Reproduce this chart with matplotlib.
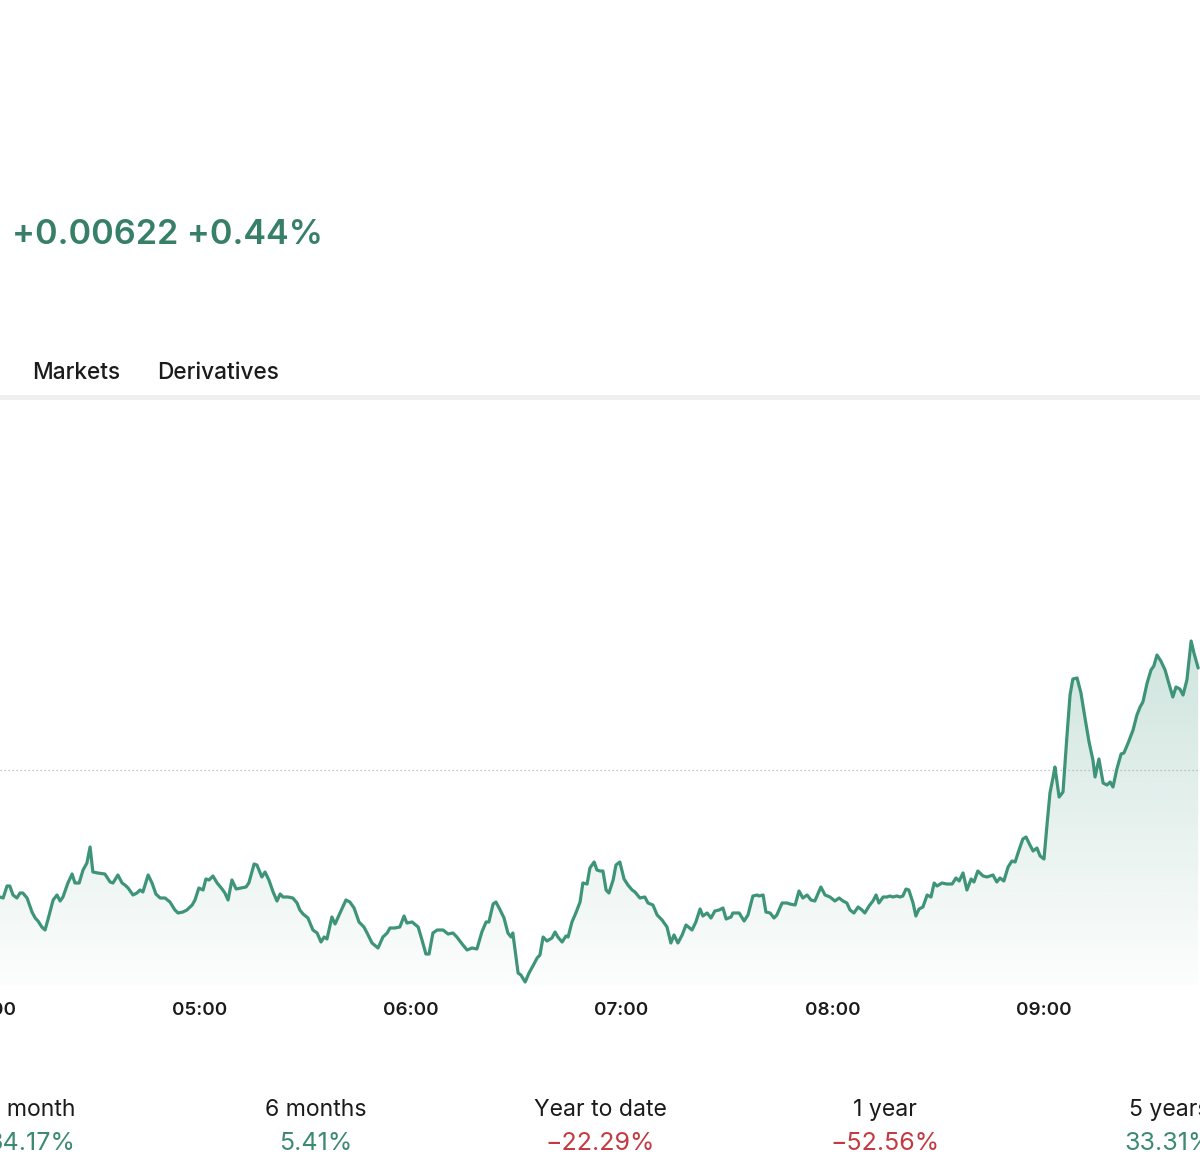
import numpy as np
import matplotlib
matplotlib.use("Agg")
import matplotlib.pyplot as plt
from matplotlib.path import Path
from matplotlib.patches import PathPatch, Rectangle
from matplotlib.transforms import Affine2D
from matplotlib.colors import to_rgb

# ---------------- data ----------------
# minutes after 04:00, in four stretches
t_a = [3.4,4.3,5.4,6.2,7.1,8.2,9.1,9.9,11.1,12.5,
       13.4,14.2,15.3,16.2,17.0,18.5,19.6,20.5,21.3,22.7,
       23.9,24.7,25.9,27.0,28.1,29.0,29.8,31.2,33.2,34.7,
       35.5,36.9,38.1,38.9,39.8,41.2,42.3,43.2,44.0,45.5,
       46.6,47.7,48.9,50.3,51.7,53.1,54.0,55.4,56.5,58.0,
       58.8,59.9,61.1,61.9,62.8,63.9,65.1,66.5,67.3,68.2,
       69.3,70.5,71.9,73.3,74.1,75.6,76.4,77.8,78.7,79.8,
       81.0,82.1,83.0,83.8,85.2,86.6,87.8]
p_a = [1.40725,1.40720,1.40780,1.40780,1.40735,1.40720,1.40745,1.40745,1.40720,1.40650,
       1.40620,1.40605,1.40575,1.40560,1.40610,1.40710,1.40735,1.40705,1.40725,1.40795,
       1.40840,1.40795,1.40795,1.40860,1.40895,1.40975,1.40850,1.40845,1.40840,1.40800,
       1.40795,1.40835,1.40795,1.40785,1.40770,1.40735,1.40745,1.40760,1.40750,1.40835,
       1.40795,1.40740,1.40720,1.40720,1.40700,1.40660,1.40645,1.40650,1.40660,1.40685,
       1.40710,1.40770,1.40760,1.40815,1.40810,1.40830,1.40795,1.40765,1.40745,1.40710,
       1.40810,1.40765,1.40770,1.40775,1.40795,1.40890,1.40885,1.40825,1.40850,1.40810,
       1.40750,1.40705,1.40740,1.40725,1.40725,1.40720,1.40695]

t_b = [88.6,89.5,90.9,92.3,93.5,94.6,95.5,96.3,97.7,98.6,
       100.0,101.7,102.8,104.0,105.4,106.8,107.7,109.1,110.8,112.2,
       113.4,114.2,115.6,117.0,118.2,119.0,120.5,122.2,123.3,124.4,
       125.3,126.4,127.6,129.3,130.7,132.1,133.2,134.7,136.1,137.5,
       138.9,140.3,141.5,142.3,143.5,144.3,145.5,146.6,147.7,148.6,
       149.1,150.6,151.4,152.6,153.7,154.8,156.0,156.8,157.7,158.8,
       160.2,161.1,161.9,163.1,164.2,164.8,165.9,167.0,168.2,169.0,
       170.2,171.0,172.2,173.0]
p_b = [1.40660,1.40640,1.40620,1.40560,1.40545,1.40500,1.40525,1.40515,1.40625,1.40590,
       1.40645,1.40710,1.40700,1.40670,1.40600,1.40575,1.40545,1.40495,1.40470,1.40525,
       1.40545,1.40570,1.40570,1.40575,1.40630,1.40595,1.40600,1.40575,1.40510,1.40440,
       1.40440,1.40545,1.40560,1.40560,1.40540,1.40545,1.40525,1.40490,1.40460,1.40470,
       1.40465,1.40550,1.40600,1.40600,1.40690,1.40700,1.40660,1.40620,1.40545,1.40525,
       1.40545,1.40345,1.40335,1.40300,1.40345,1.40380,1.40420,1.40435,1.40525,1.40505,
       1.40520,1.40550,1.40525,1.40500,1.40530,1.40525,1.40600,1.40645,1.40700,1.40795,
       1.40790,1.40870,1.40900,1.40860]

t_c = [173.9,174.7,175.6,176.4,177.6,178.4,179.5,180.7,181.8,183.0,
       183.8,185.2,186.6,187.5,188.9,190.1,191.5,192.9,194.0,194.9,
       196.0,197.2,198.3,200.0,201.1,202.3,203.1,204.3,205.4,206.5,
       207.7,208.8,209.7,211.1,211.6,213.4,214.8,215.9,217.3,218.5,
       219.0,220.2,221.0,222.2,223.3,224.1,225.6,227.0,227.8,229.3,
       230.4,231.5,232.7,233.8,234.9,236.6,237.8,239.2,240.6,241.8,
       242.9,244.0,244.9,246.0,247.2,248.3,249.1,250.3,251.4,252.3,
       253.1,254.3,255.4,256.2,257.1,258.2]
p_c = [1.40855,1.40855,1.40760,1.40745,1.40810,1.40885,1.40900,1.40815,1.40785,1.40760,
       1.40750,1.40720,1.40725,1.40695,1.40685,1.40635,1.40610,1.40575,1.40495,1.40535,
       1.40495,1.40535,1.40585,1.40560,1.40600,1.40665,1.40630,1.40645,1.40620,1.40655,
       1.40660,1.40670,1.40615,1.40625,1.40645,1.40645,1.40605,1.40635,1.40730,1.40735,
       1.40730,1.40735,1.40650,1.40645,1.40620,1.40635,1.40695,1.40695,1.40690,1.40685,
       1.40755,1.40720,1.40735,1.40710,1.40705,1.40775,1.40735,1.40725,1.40705,1.40720,
       1.40705,1.40695,1.40660,1.40645,1.40675,1.40660,1.40645,1.40680,1.40705,1.40735,
       1.40695,1.40725,1.40725,1.40730,1.40725,1.40730]

t_d = [259.1,259.9,260.8,261.6,262.8,263.6,264.5,265.6,266.8,267.9,
       268.8,269.6,271.0,272.4,273.9,275.0,275.9,277.0,278.1,279.3,
       280.1,281.2,282.7,283.8,285.5,286.6,287.5,288.6,289.8,290.9,
       291.8,292.9,294.0,294.9,296.0,296.9,298.0,298.9,300.0,300.9,
       301.7,302.6,303.1,304.3,305.4,306.5,307.4,308.2,309.4,310.5,
       311.6,312.8,313.9,314.5,315.6,316.8,317.9,318.8,319.6,320.7,
       321.9,322.7,323.9,325.3,326.4,327.3,328.1,329.3,330.4,331.2,
       332.1,333.2,334.4,335.2,336.6,337.5,338.6,339.5,340.6,341.8,
       342.6,343.8]
p_d = [1.40725,1.40730,1.40765,1.40760,1.40695,1.40630,1.40665,1.40675,1.40735,1.40725,
       1.40795,1.40780,1.40795,1.40790,1.40790,1.40820,1.40805,1.40845,1.40760,1.40815,
       1.40800,1.40855,1.40830,1.40825,1.40835,1.40800,1.40820,1.40805,1.40875,1.40905,
       1.40900,1.40960,1.41015,1.41025,1.40985,1.40955,1.40970,1.40930,1.40915,1.41095,
       1.41245,1.41325,1.41375,1.41225,1.41250,1.41525,1.41735,1.41815,1.41820,1.41745,
       1.41625,1.41500,1.41410,1.41325,1.41415,1.41295,1.41285,1.41300,1.41275,1.41365,
       1.41440,1.41445,1.41495,1.41560,1.41635,1.41675,1.41700,1.41795,1.41860,1.41880,
       1.41935,1.41905,1.41860,1.41810,1.41725,1.41775,1.41765,1.41735,1.41810,1.42005,
       1.41945,1.41870]

prev_close = 1.41360

tick_minutes = [0, 60, 120, 180, 240, 300]
tick_labels = ["04:00", "05:00", "06:00", "07:00", "08:00", "09:00"]

header_change = "+0.00622 +0.44%"
tabs = ["Markets", "Derivatives"]

period_names = ["1 month", "6 months", "Year to date", "1 year", "5 years"]
period_values = ["34.17%", "5.41%", "\u221222.29%", "\u221252.56%", "33.31%"]

# ---------------- style ----------------
LINE = "#3e9479"
GREEN_TXT = "#3d8a6f"
HEAD_GREEN = "#378067"
RED_TXT = "#c43a43"
DARK = "#1b1b1b"
FONT = ["Inter", "DejaVu Sans"]
plt.rcParams["font.family"] = FONT

W, H = 1200, 1174
fig = plt.figure(figsize=(W / 100, H / 100), dpi=100)
fig.patch.set_facecolor("white")
px = Affine2D().scale(1 / W, -1 / H).translate(0, 1) + fig.transFigure

t = np.array(t_a + t_b + t_c + t_d)
p = np.array(p_a + p_b + p_c + p_d)

x0, x1 = 3.41, 344.32
y_bot, y_top = 1.40285, 1.43210

ax = fig.add_axes([0, (H - 985) / H, 1, 585 / H])
ax.set_facecolor("none")
for s in ax.spines.values():
    s.set_visible(False)

# gradient fill under the line
verts = np.vstack([np.column_stack([t, p]), [[t[-1], y_bot], [t[0], y_bot]]])
clip = PathPatch(Path(verts), facecolor="none", edgecolor="none")
ax.add_patch(clip)
grad = np.zeros((256, 1, 4))
grad[..., :3] = to_rgb(LINE)
grad[:, 0, 3] = np.linspace(0.25, 0.015, 256)
im = ax.imshow(grad, extent=[t[0], t[-1], y_bot, p.max()], aspect="auto",
               origin="upper", zorder=1, interpolation="bilinear")
im.set_clip_path(clip)

ax.axhline(prev_close, color="#b3b3b3", lw=0.9, ls=(0, (1, 2.2)), zorder=2)
ax.plot(t, p, color=LINE, lw=2.3, solid_joinstyle="round", solid_capstyle="round", zorder=3)

TICK_FS, TICK_PAD = 13.5, 12.5
ax.set_yticks([])
ax.set_xticks(tick_minutes[1:])
ax.set_xticklabels(tick_labels[1:], fontsize=TICK_FS, fontweight="semibold", color=DARK)
ax.tick_params(axis="x", length=0, pad=TICK_PAD)
ax.set_xlim(x0, x1)
ax.set_ylim(y_bot, y_top)
# first hour label lies just left of the visible window (cut by the edge)
ax.annotate(tick_labels[0], xy=(tick_minutes[0], 0), xycoords=("data", "axes fraction"),
            xytext=(0, -TICK_PAD), textcoords="offset points", ha="center", va="top",
            fontsize=TICK_FS, fontweight="semibold", color=DARK, annotation_clip=False)

# header texts
fig.text(12, 243.5, header_change, transform=px, fontsize=24.6, fontweight="semibold",
         color=HEAD_GREEN, ha="left", va="baseline")
tab_x = [32, 157]
for xx, lab in zip(tab_x, tabs):
    fig.text(xx, 379, lab, transform=px, fontsize=16.3, fontweight="medium",
             color=DARK, ha="left", va="baseline")
fig.add_artist(Rectangle((0, 395), W, 4.5, transform=px, facecolor="#efefef",
                         edgecolor="none"))

# period performance row
name_x = [33, 316, 600, 885, 1169]
val_x = [31, 316, 600, 885, 1169]
for xn, xv, name, val in zip(name_x, val_x, period_names, period_values):
    fig.text(xn, 1116, name, transform=px, fontsize=16.6, color=DARK,
             ha="center", va="baseline")
    col = RED_TXT if val.startswith("\u2212") else GREEN_TXT
    fig.text(xv, 1150, val, transform=px, fontsize=18, color=col,
             ha="center", va="baseline")

fig.savefig("out.png", dpi=100, facecolor="white")
